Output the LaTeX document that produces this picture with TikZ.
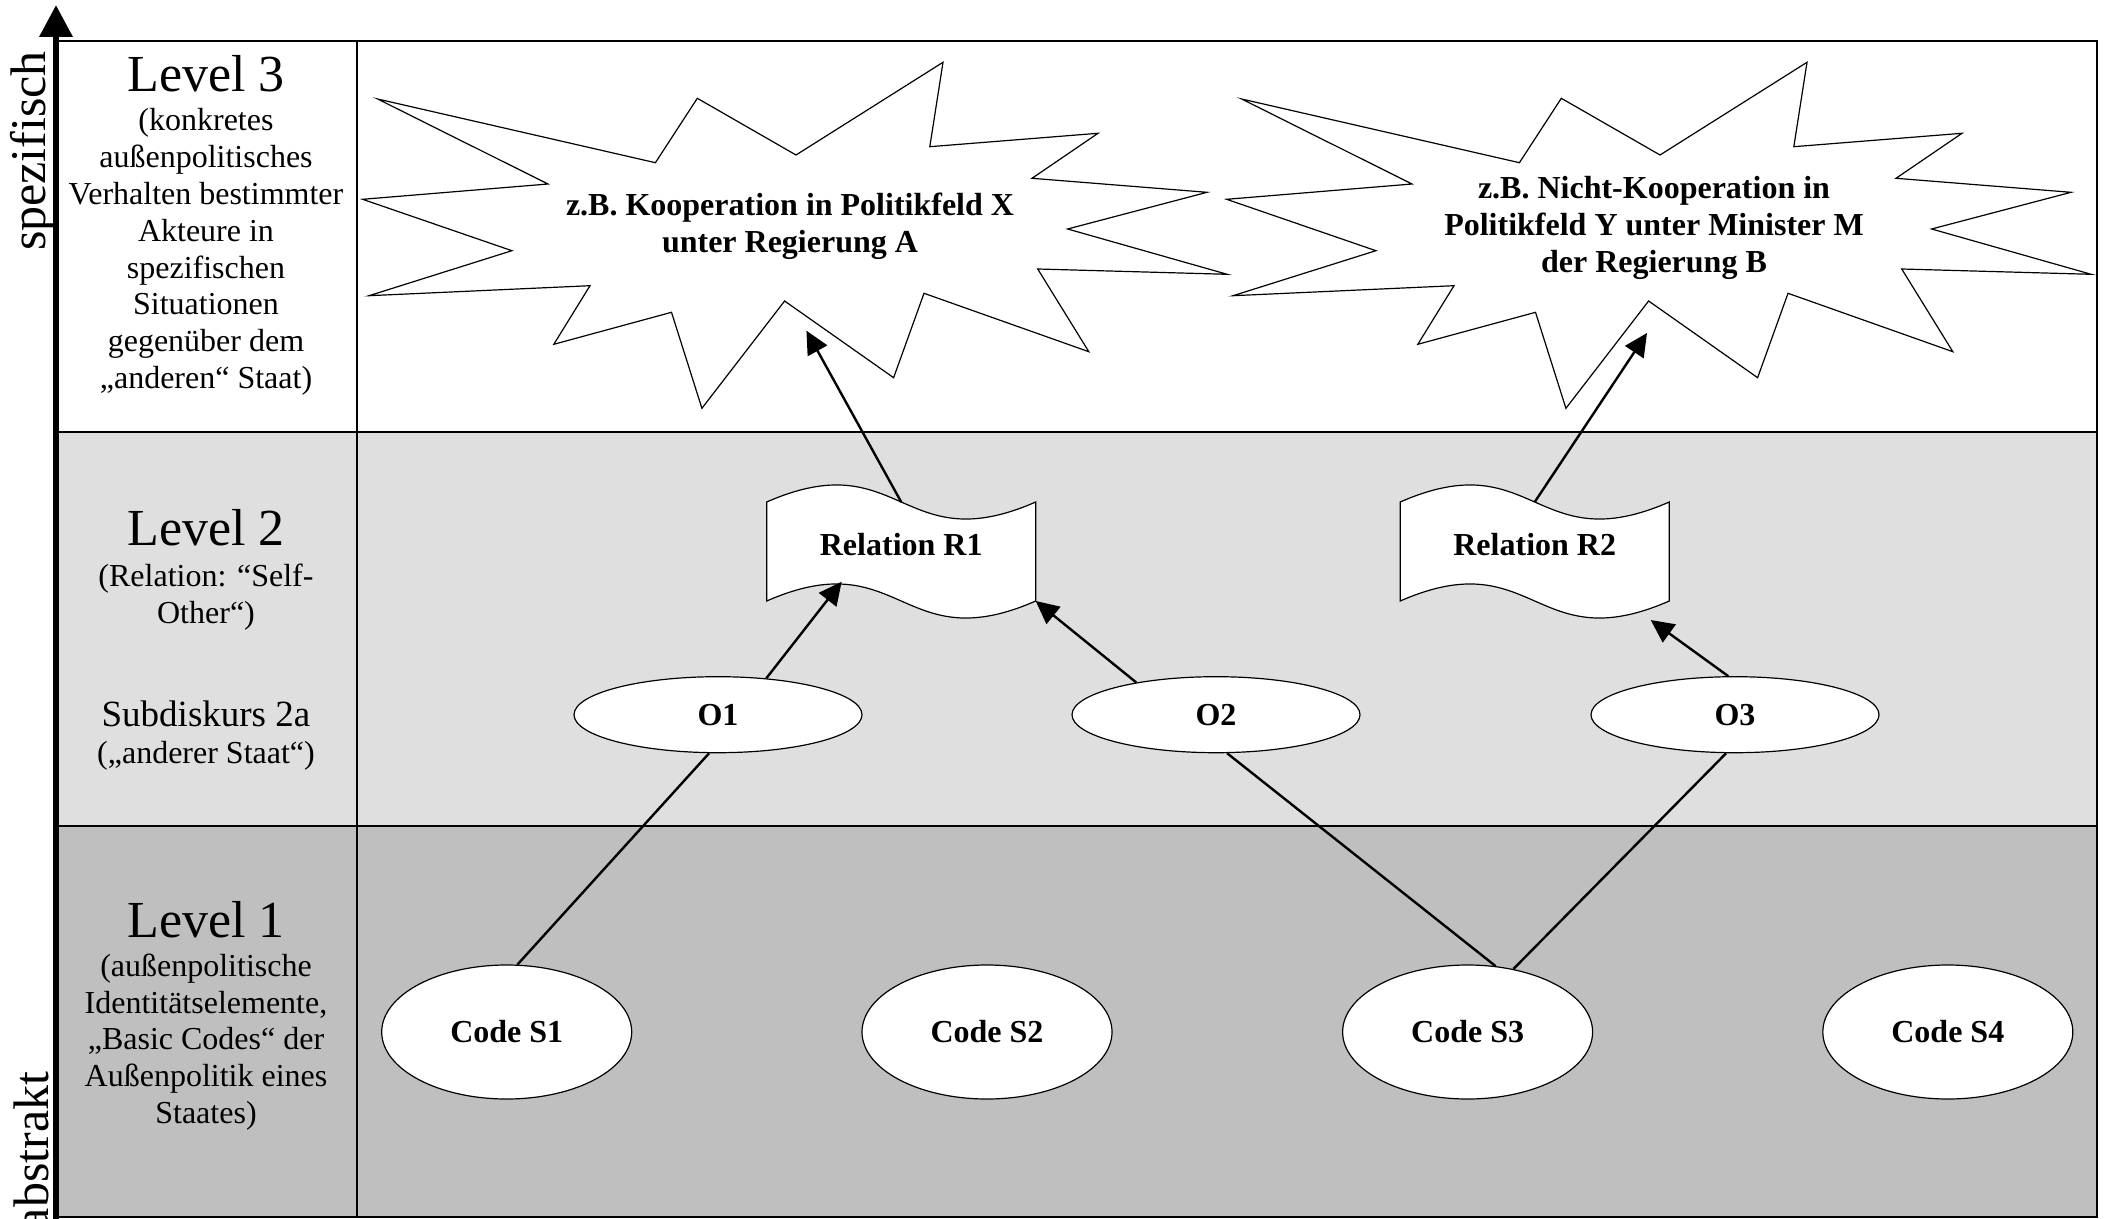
\documentclass[tikz,border=0pt]{standalone}
\usepackage{fontspec}
\setmainfont{Liberation Serif}
\usetikzlibrary{arrows.meta,shapes.geometric,calc}
\definecolor{lvtwo}{gray}{0.875}
\definecolor{lvone}{gray}{0.75}
\begin{document}
\begin{tikzpicture}[x=0.5pt,y=-0.5pt,
  grid/.style={line width=0.9pt},
  lbl/.style={font=\fontsize{16}{18.4}\selectfont, align=center, inner sep=0pt},
  lvl/.style={font=\fontsize{26}{30}\selectfont, inner sep=0pt, anchor=base},
  sbtext/.style={font=\fontsize{16}{18.5}\selectfont\bfseries, align=center, inner sep=0pt},
  oval/.style={ellipse, draw, line width=0.6pt, fill=white, minimum width=144pt, minimum height=38pt, inner sep=0pt, font=\fontsize{16}{18}\selectfont\bfseries},
  code/.style={oval, minimum width=125pt, minimum height=67pt},
  rel/.style={rectangle, inner sep=0pt, outer sep=0pt, minimum width=134.5pt, minimum height=49.5pt, text depth=7pt, font=\fontsize{16}{18}\selectfont\bfseries},
  relshape/.style={draw, line width=0.6pt, fill=white},
  burst/.style={draw, line width=0.6pt, fill=white, line join=miter},
  conn/.style={line width=1.2pt},
  arr/.style={conn, -{Triangle[length=11.5pt,width=11pt]}},
  rot/.style={rotate=90, anchor=base, inner sep=0pt, font=\fontsize{25}{30}\selectfont}
]
\useasboundingbox (0,0) rectangle (2107,1219);
% background bands
\fill[white] (56,40.7) rectangle (2097,432);
\fill[lvtwo] (56,432) rectangle (2097,826);
\fill[lvone] (56,826) rectangle (2097,1216.7);
\draw[grid] (56,40.7) rectangle (2097,1216.7);
\draw[grid] (56,432) -- (2097,432);
\draw[grid] (56,826) -- (2097,826);
\draw[grid] (357,40.7) -- (357,1216.7);

% starbursts
\foreach \dx in {0,864}{
\draw[burst, shift={(\dx,0)}] (377.6,99) -- (548,184) -- (362.6,199.3) -- (511.9,250.7) -- (369,295.7) -- (590,285.7) -- (553.8,344.3) -- (671.5,312.3) -- (701.9,408.3) -- (784.6,301) -- (893.6,377.7) -- (924,293.3) -- (1088.8,351.7) -- (1037.7,269) -- (1227.2,274.3) -- (1067.6,229) -- (1207,192.3) -- (1032,178.3) -- (1098,133.3) -- (929.8,146.7) -- (943,62.3) -- (796,155) -- (697.3,98.3) -- (655.4,162.7) -- cycle;
}
\node[sbtext] (SB1) at (790,226.5) {z.B. Kooperation in Politikfeld X\\unter Regierung A};
\node[sbtext] (SB2) at (1654,227.5) {z.B. Nicht-Kooperation in\\Politikfeld Y unter Minister M\\der Regierung B};
\coordinate (sb1a) at (806.4,330.7);
\coordinate (sb2a) at (1647,333);

% relation shapes
\node[rel] (R1) at (901.2,551.5) {};
\node[rel] (R2) at (1534.7,551.5) {};
\foreach \r in {R1,R2}{
\draw[relshape] (\r.north west) .. controls ($(\r.north)+(0,-59)$) and ($(\r.north)+(0,59)$) .. (\r.north east) -- (\r.south east) .. controls ($(\r.south)+(0,59)$) and ($(\r.south)+(0,-59)$) .. (\r.south west) -- cycle;
}
\node[rel] (R1t) at (R1) {Relation R1};
\node[rel] (R2t) at (R2) {Relation R2};
\coordinate (r1a) at (841.7,581.7);
\coordinate (r2a) at (1650.7,620);

% ellipses
\node[oval] (O1) at (718,714.7) {O1};
\node[oval] (O2) at (1216,714.7) {O2};
\node[oval] (O3) at (1735,714.7) {O3};
\node[code] (S1) at (506.7,1032) {Code S1};
\node[code] (S2) at (987,1032) {Code S2};
\node[code] (S3) at (1467.6,1032) {Code S3};
\node[code] (S4) at (1947.8,1032) {Code S4};

% connectors
\draw[conn] (S1.81.6) -- (O1.257);
\draw[conn] (S3.67.5) -- (O2.286.7);
\draw[conn] (S3.54) -- (O3.257.8);
\draw[arr] (O1.37.7) -- (r1a);
\draw[arr] (O2.158.8) -- (R1.south east);
\draw[arr] (O3.100.2) -- (r2a);
\draw[arr] (R1.north) -- (sb1a);
\draw[arr] (R2.north) -- (sb2a);

% axis
\coordinate (axb) at (56,1230);
\coordinate (axt) at (56,5);
\draw[line width=3.3pt, -{Triangle[length=16pt,width=16pt]}] (axb) -- (axt);
\node[rot] (spez) at (45,151) {spezifisch};
\node[rot] (abst) at (48,1151) {abstrakt};

% level labels
\node[lvl] (L3) at (206,92) {Level 3};
\node[lbl] (L3d) at (206,252) {(konkretes\\außenpolitisches\\Verhalten bestimmter\\Akteure in\\spezifischen\\Situationen\\gegenüber dem\\„anderen“ Staat)};
\node[lvl] (L2) at (206,545) {Level 2};
\node[lbl] (L2d) at (206,597) {(Relation: “Self-\\Other“)};
\node[lvl, font=\fontsize{18.5}{22}\selectfont] (sub) at (206,726) {Subdiskurs 2a};
\node[lbl, anchor=base] (subd) at (206,763) {(„anderer Staat“)};
\node[lvl] (L1) at (206,937) {Level 1};
\node[lbl] (L1d) at (206,1042) {(außenpolitische\\Identitätselemente,\\„Basic Codes“ der\\Außenpolitik eines\\Staates)};
\end{tikzpicture}
\end{document}
